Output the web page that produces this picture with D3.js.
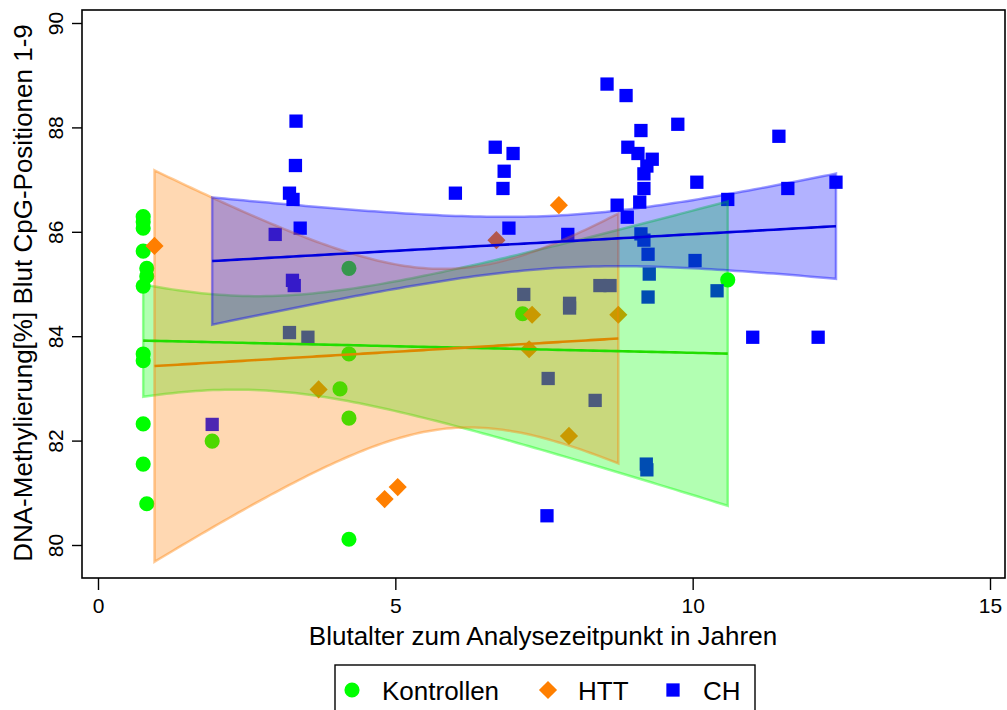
<!DOCTYPE html>
<html>
<head>
<meta charset="utf-8">
<script src="https://cdn.jsdelivr.net/npm/d3@7"></script>
<style>
  html, body { margin: 0; padding: 0; background: #fff; }
  svg { display: block; }
  text { font-family: "Liberation Sans", Arial, sans-serif; fill: #000; }
</style>
</head>
<body>
<svg id="chart" width="1007" height="710"></svg>
<script>
// Blood age (years) and DNA methylation (%) per group
const kontrollenX = [0.76, 0.76, 0.76, 0.76, 0.82, 0.82, 0.76, 0.76, 0.76, 0.76, 0.76, 0.82,
                     1.92, 4.07, 4.22, 4.22, 4.22, 4.22, 7.14, 10.59];
const kontrollenY = [86.29, 86.19, 86.07, 85.63, 85.30, 85.15, 84.96, 83.66, 83.53, 82.32, 81.55, 80.79,
                     81.99, 82.99, 85.30, 83.66, 82.43, 80.11, 84.43, 85.08];

const httX = [0.95, 3.71, 4.82, 5.04, 6.70, 7.25, 7.30, 7.75, 7.92, 8.75];
const httY = [85.73, 82.98, 80.88, 81.11, 85.84, 83.75, 84.41, 86.51, 82.09, 84.41];

const chX = [1.92, 2.98, 3.22, 3.28, 3.33, 3.32, 3.40, 3.27, 3.30, 3.22, 3.53,
             6.01, 6.68, 6.98, 6.83, 6.81, 6.91, 7.16, 7.57, 7.55, 7.90, 7.93, 7.93,
             8.36, 8.44, 8.61, 8.56, 8.88, 9.13, 9.75, 11.45, 8.91, 9.08, 9.32, 9.23,
             9.18, 9.18, 9.11, 8.73, 8.90, 10.07, 10.59, 11.60, 12.41, 9.13, 9.18,
             9.25, 10.04, 9.27, 10.41, 9.25, 11.01, 12.11, 9.22, 9.23];
const chY = [82.31, 85.95, 86.74, 86.62, 88.12, 87.27, 86.07, 85.07, 84.97, 84.07, 83.98,
             86.74, 87.62, 87.50, 87.16, 86.83, 86.07, 84.80, 83.19, 80.56, 85.95, 84.63, 84.54,
             82.77, 84.97, 84.97, 88.83, 88.61, 87.94, 88.06, 87.83, 87.62, 87.50, 87.39, 87.26,
             87.11, 86.83, 86.57, 86.51, 86.28, 86.95, 86.62, 86.83, 86.95, 85.96, 85.84,
             85.57, 85.45, 85.19, 84.87, 84.75, 83.98, 83.98, 81.55, 81.44];

const groupNames = ["Kontrollen", "HTT", "CH"];
const xTicks = [0, 5, 10, 15];
const yTicks = [80, 82, 84, 86, 88, 90];

const xTitle = "Blutalter zum Analysezeitpunkt in Jahren";
const yTitle = "DNA-Methylierung[%] Blut CpG-Positionen 1-9";

// ---- styling per group ----
const groups = [
  { name: groupNames[0], xs: kontrollenX, ys: kontrollenY, color: "#00ff00", line: "#22dd00", shape: d3.symbolCircle, size: 180 },
  { name: groupNames[1], xs: httX, ys: httY, color: "#ff7f00", line: "#dd8800", shape: d3.symbolDiamond2, size: 210 },
  { name: groupNames[2], xs: chX, ys: chY, color: "#0000ff", line: "#0000dd", shape: d3.symbolSquare2, size: 225 }
];

const frame = { left: 82, right: 1005, top: 10, bottom: 578 };
const x = d3.scaleLinear().domain([0, 15]).range([98, 990]);
const y = d3.scaleLinear().domain([80, 90]).range([545, 23]);
const tickFont = 21;
const titleFont = 26;

const svg = d3.select("#chart");

// ---- Student t quantile (two-sided 95%) via bisection on numerically integrated CDF ----
function logGamma(z) {
  const c = [76.18009172947146, -86.50532032941677, 24.01409824083091,
             -1.231739572450155, 0.1208650973866179e-2, -0.5395239384953e-5];
  let xx = z, yy = z, tmp = xx + 5.5;
  tmp -= (xx + 0.5) * Math.log(tmp);
  let ser = 1.000000000190015;
  for (let j = 0; j < 6; j++) ser += c[j] / ++yy;
  return -tmp + Math.log(2.5066282746310005 * ser / xx);
}
function tDensity(t, df) {
  const logC = logGamma((df + 1) / 2) - logGamma(df / 2) - 0.5 * Math.log(df * Math.PI);
  return Math.exp(logC - (df + 1) / 2 * Math.log(1 + t * t / df));
}
function tCdfUpper(q, df) {
  // P(0 < T < q) via Simpson's rule
  const n = 400, h = q / n;
  let s = tDensity(0, df) + tDensity(q, df);
  for (let i = 1; i < n; i++) s += (i % 2 ? 4 : 2) * tDensity(i * h, df);
  return s * h / 3;
}
function tQuantile975(df) {
  let lo = 0, hi = 20;
  for (let k = 0; k < 60; k++) {
    const mid = (lo + hi) / 2;
    if (tCdfUpper(mid, df) < 0.475) lo = mid; else hi = mid;
  }
  return (lo + hi) / 2;
}

// ---- linear fit with 95% confidence band of the mean ----
function linearFit(xs, ys) {
  const n = xs.length;
  const mx = d3.mean(xs), my = d3.mean(ys);
  let sxx = 0, sxy = 0;
  for (let i = 0; i < n; i++) { sxx += (xs[i] - mx) ** 2; sxy += (xs[i] - mx) * (ys[i] - my); }
  const b = sxy / sxx, a = my - b * mx;
  let sse = 0;
  for (let i = 0; i < n; i++) sse += (ys[i] - a - b * xs[i]) ** 2;
  const s = Math.sqrt(sse / (n - 2));
  const t = tQuantile975(n - 2);
  const [x0, x1] = d3.extent(xs);
  return d3.range(0, 101).map(i => {
    const xv = x0 + (x1 - x0) * i / 100;
    const fit = a + b * xv;
    const se = s * Math.sqrt(1 / n + (xv - mx) ** 2 / sxx);
    return { x: xv, fit, lo: fit - t * se, hi: fit + t * se };
  });
}

// ---- markers ----
const markerLayer = svg.append("g");
groups.forEach(g => {
  markerLayer.append("g").selectAll("path")
    .data(g.xs.map((xv, i) => [xv, g.ys[i]]))
    .join("path")
    .attr("transform", d => `translate(${x(d[0])},${y(d[1])})`)
    .attr("d", d3.symbol(g.shape, g.size))
    .attr("fill", g.color);
});

// ---- confidence bands ----
const fits = groups.map(g => linearFit(g.xs, g.ys));
const area = d3.area().x(d => x(d.x)).y0(d => y(d.lo)).y1(d => y(d.hi));
const bandLayer = svg.append("g");
groups.forEach((g, i) => {
  bandLayer.append("path")
    .datum(fits[i])
    .attr("d", area)
    .attr("fill", g.color)
    .attr("fill-opacity", 0.3)
    .attr("stroke", g.color)
    .attr("stroke-opacity", 0.4)
    .attr("stroke-width", 2.5);
});

// ---- fitted lines ----
const line = d3.line().x(d => x(d.x)).y(d => y(d.fit));
groups.forEach((g, i) => {
  svg.append("path")
    .datum(fits[i])
    .attr("d", line)
    .attr("fill", "none")
    .attr("stroke", g.line)
    .attr("stroke-width", 2.6);
});

// ---- plot frame ----
svg.append("rect")
  .attr("x", frame.left).attr("y", frame.top)
  .attr("width", frame.right - frame.left).attr("height", frame.bottom - frame.top)
  .attr("fill", "none").attr("stroke", "#000").attr("stroke-width", 1.6);

// ---- axes ----
const xAxis = svg.append("g")
  .attr("transform", `translate(0,${frame.bottom})`)
  .call(d3.axisBottom(x).tickValues(xTicks).tickSize(12).tickPadding(8).tickFormat(d3.format("d")));
xAxis.select(".domain").remove();
xAxis.selectAll("line").attr("stroke", "#000").attr("stroke-width", 1.4);
xAxis.selectAll("text").attr("font-size", tickFont).attr("font-family", "Liberation Sans, Arial, sans-serif");

const yAxis = svg.append("g")
  .attr("transform", `translate(${frame.left},0)`)
  .call(d3.axisLeft(y).tickValues(yTicks).tickSize(10).tickFormat(d3.format("d")));
yAxis.select(".domain").remove();
yAxis.selectAll("line").attr("stroke", "#000").attr("stroke-width", 1.4);
yAxis.selectAll("text")
  .attr("font-size", tickFont)
  .attr("font-family", "Liberation Sans, Arial, sans-serif")
  .attr("transform", "rotate(-90)")
  .attr("x", 0).attr("y", -19).attr("dy", 0)
  .attr("text-anchor", "middle");

// ---- axis titles ----
svg.append("text")
  .attr("x", 543).attr("y", 645)
  .attr("text-anchor", "middle")
  .attr("font-size", titleFont)
  .text(xTitle);

svg.append("text")
  .attr("transform", `translate(32,293) rotate(-90)`)
  .attr("text-anchor", "middle")
  .attr("font-size", titleFont)
  .text(yTitle);

// ---- legend ----
const legend = svg.append("g");
legend.append("rect")
  .attr("x", 335).attr("y", 665).attr("width", 420).attr("height", 60)
  .attr("fill", "#fff").attr("stroke", "#000").attr("stroke-width", 1.4);
const legendPos = [{ mx: 352, tx: 382 }, { mx: 548, tx: 578 }, { mx: 673, tx: 703 }];
groups.forEach((g, i) => {
  legend.append("path")
    .attr("transform", `translate(${legendPos[i].mx},690)`)
    .attr("d", d3.symbol(g.shape, g.size))
    .attr("fill", g.color);
  legend.append("text")
    .attr("x", legendPos[i].tx).attr("y", 700)
    .attr("font-size", titleFont)
    .text(g.name);
});
</script>
</body>
</html>
